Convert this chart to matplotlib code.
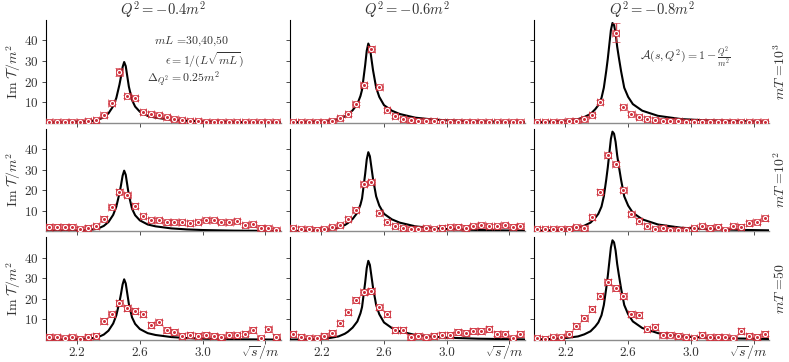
import numpy as np
import matplotlib
matplotlib.use("Agg")
import matplotlib.pyplot as plt
import matplotlib.transforms as mtransforms

plt.rcParams['font.family'] = 'serif'
plt.rcParams['font.serif'] = ['cmr10']
plt.rcParams['mathtext.fontset'] = 'cm'
plt.rcParams['axes.formatter.use_mathtext'] = True

# lattice points (sqrt(s)/m)
s_pts = [2.02, 2.07, 2.12, 2.17, 2.22, 2.27, 2.32, 2.37, 2.42, 2.47,
         2.52, 2.57, 2.62, 2.67, 2.72, 2.77, 2.82, 2.87, 2.92, 2.97,
         3.02, 3.07, 3.12, 3.17, 3.22, 3.27, 3.32, 3.37, 3.42, 3.47]

# rows: mT = 1e3, 1e2, 50 ; cols: Q^2 = -0.4, -0.6, -0.8
im_T = [
    [  # mT = 10^3
        [0.2, 0.2, 0.2, 0.3, 0.4, 0.6, 1.2, 3.6, 9.7, 24.5,
         12.8, 12.0, 5.0, 4.4, 3.8, 2.8, 1.8, 1.3, 0.9, 0.7,
         0.5, 0.4, 0.3, 0.3, 0.2, 0.2, 0.2, 0.1, 0.1, 0.1],
        [0.2, 0.2, 0.3, 0.3, 0.5, 1.0, 2.2, 4.0, 9.3, 18.4,
         35.8, 17.1, 6.1, 3.0, 1.8, 1.3, 1.0, 0.8, 0.6, 0.5,
         0.4, 0.3, 0.3, 0.2, 0.2, 0.2, 0.1, 0.1, 0.1, 0.1],
        [0.2, 0.2, 0.3, 0.4, 0.6, 1.0, 1.8, 3.6, 10.1, np.nan,
         43.8, 7.7, 4.4, 2.6, 1.7, 1.3, 1.0, 0.8, 0.6, 0.5,
         0.4, 0.4, 0.3, 0.3, 0.2, 0.2, 0.2, 0.1, 0.1, 0.1],
    ],
    [  # mT = 10^2
        [2.2, 2.2, 2.2, 2.2, 1.1, 1.8, 2.4, 6.1, 11.7, 19.3,
         17.6, 12.5, 7.4, 5.5, 5.5, 4.3, 4.6, 4.3, 3.9, 4.6,
         5.5, 5.5, 4.6, 4.6, 4.9, 3.0, 3.4, 1.8, 1.6, 0.5],
        [1.5, 1.2, 1.0, 0.8, 1.2, 2.0, 3.0, 6.0, 10.5, 23.0,
         24.0, 9.0, 4.5, 2.5, 1.5, 1.0, 1.2, 1.5, 1.0, 1.8,
         2.0, 2.2, 1.8, 2.5, 3.0, 2.6, 2.4, 3.0, 2.2, 2.6],
        [1.1, 1.0, 1.0, 1.0, 1.3, 1.9, 1.5, 6.8, 19.3, 36.9,
         32.8, 20.1, 8.4, 5.2, 2.6, 1.1, 1.8, 0.6, 0.6, 0.6,
         1.4, 2.6, 1.8, 2.3, 0.6, 2.6, 2.3, 3.9, 4.4, 6.3],
    ],
    [  # mT = 50
        [1.5, 1.2, 0.7, 1.2, 0.3, 1.5, 2.0, 9.2, 12.4, 18.1,
         15.7, 14.2, 12.4, 7.2, 8.5, 4.8, 4.0, 1.8, 2.3, 1.8,
         2.6, 1.8, 1.2, 2.6, 2.2, 3.1, 4.8, 0.7, 5.1, 1.5],
        [2.8, 1.5, 0.7, 0.7, 1.8, 3.4, 8.0, 13.4, 19.4, 23.1,
         23.8, 15.8, 12.8, 4.8, 4.8, 1.5, 1.8, 1.2, 2.0, 2.6,
         2.3, 4.0, 3.4, 4.4, 4.2, 5.2, 3.1, 3.1, 0.7, 2.8],
        [0.7, 0.4, 1.2, 1.2, 3.1, 6.8, 10.8, 15.0, 21.4, 28.1,
         25.1, 21.4, 12.6, 12.1, 5.1, 6.4, 2.6, 2.6, 1.8, 1.2,
         0.7, 2.3, 1.2, 1.5, 1.2, 0.7, 4.4, 1.8, 1.5, 3.1],
    ],
]

s_err = 0.021
row_err = [0.8, 1.1, 1.4]
peak_err = {(0, 0, 9): 2.0, (0, 1, 10): 1.5, (0, 2, 10): 4.5}

# infinite-volume curves, one per Q^2
curve_s = [
    [2.00, 2.10, 2.20, 2.28, 2.33, 2.37, 2.40, 2.43, 2.45, 2.47, 2.48, 2.49, 2.50,
     2.51, 2.52, 2.53, 2.55, 2.57, 2.60, 2.65, 2.70, 2.80, 2.90, 3.00, 3.20, 3.50],
    [2.00, 2.10, 2.20, 2.26, 2.31, 2.35, 2.37, 2.40, 2.43, 2.45, 2.46, 2.47, 2.48, 2.49,
     2.50, 2.51, 2.52, 2.53, 2.55, 2.57, 2.60, 2.65, 2.70, 2.80, 2.90, 3.00, 3.20, 3.50],
    [2.00, 2.10, 2.20, 2.28, 2.32, 2.36, 2.39, 2.41, 2.43, 2.445, 2.46, 2.47, 2.48, 2.49,
     2.50, 2.51, 2.52, 2.53, 2.54, 2.555, 2.575, 2.60, 2.63, 2.69, 2.79, 2.94, 3.10, 3.30, 3.50],
]
curve_T = [
    [0.1, 0.2, 0.35, 0.7, 1.2, 2.6, 4.5, 8.0, 12.0, 18.5, 22.5, 27.0, 29.5,
     27.5, 22.5, 17.5, 11.0, 7.8, 5.3, 3.3, 2.4, 1.4, 0.9, 0.6, 0.3, 0.15],
    [0.15, 0.3, 0.6, 1.0, 1.7, 3.0, 4.0, 6.0, 9.0, 13.0, 16.0, 22.0, 28.0, 35.0,
     38.5, 36.5, 31.0, 25.5, 17.0, 12.5, 8.5, 5.8, 4.2, 2.4, 1.6, 1.1, 0.6, 0.25],
    [0.2, 0.45, 0.9, 1.7, 2.7, 4.2, 6.5, 8.5, 12.0, 17.0, 25.0, 31.0, 38.0, 45.0,
     48.5, 47.5, 43.5, 37.0, 32.0, 25.0, 17.0, 12.5, 9.0, 5.8, 3.3, 1.7, 1.1, 0.7, 0.45],
]

titles = [r'$Q^2=-0.4m^2$', r'$Q^2=-0.6m^2$', r'$Q^2=-0.8m^2$']
row_labels = [r'$mT$ =$10^3$', r'$mT$ =$10^2$', r'$mT$ =$50$']
xticks = [2.2, 2.6, 3.0, 3.4]
xticklabels = ['2.2', '2.6', '3.0', '']
yticks = [10, 20, 30, 40]

red = '#d0303c'
txt = '0.2'

fig, axes = plt.subplots(3, 3, figsize=(7.89, 3.62), dpi=100, sharex=True, sharey=True)
fig.subplots_adjust(left=0.058, right=0.975, top=0.945, bottom=0.061,
                    wspace=0.038, hspace=0.058)

for i in range(3):
    for j in range(3):
        ax = axes[i, j]
        ax.plot(curve_s[j], curve_T[j], color='black', lw=1.5, zorder=3)
        yv = np.array(im_T[i][j], dtype=float)
        ye = np.full(len(yv), row_err[i])
        for (a, b, k), e in peak_err.items():
            if a == i and b == j:
                ye[k] = e
        ax.errorbar(s_pts, yv, xerr=s_err, yerr=ye, fmt='s', ms=4.5,
                    mfc=red, mec=red, mew=0.5, ecolor=red, alpha=0.9,
                    elinewidth=1.0, capsize=2.6, capthick=1.0, zorder=4)
        ax.plot(s_pts, yv, 'o', ms=3.0, mfc='none', mec='white', mew=0.8, zorder=5)
        ax.set_xlim(2.0, 3.5)
        ax.set_ylim(0, 50)
        ax.set_xticks(xticks)
        ax.set_xticklabels(xticklabels)
        ax.set_yticks(yticks)
        for sp in ['top', 'right']:
            ax.spines[sp].set_visible(False)
        ax.spines['left'].set_color('black')
        ax.spines['left'].set_linewidth(0.8)
        ax.spines['bottom'].set_color('0.55')
        ax.spines['bottom'].set_linewidth(1.0)
        ax.tick_params(direction='out', length=3, width=0.7, colors='0.3',
                       labelcolor=txt, labelsize=9.5, pad=2)
        if i == 0:
            ax.set_title(titles[j], fontsize=10.5, color=txt, pad=4)
        if j == 0:
            ax.set_ylabel(r'${\rm Im}\ \mathcal{T}/m^2$', fontsize=10, color=txt)
            ax.yaxis.set_label_coords(-0.095, 0.5)
        if j == 2:
            ax.text(1.045, 0.5, row_labels[i], transform=ax.transAxes, rotation=90,
                    ha='center', va='center', fontsize=10, color=txt)
        if i == 2:
            tr = mtransforms.blended_transform_factory(ax.transData, ax.transAxes)
            ax.text(3.37, -0.115, r'$\sqrt{s}/m$', transform=tr, ha='center',
                    va='center', fontsize=10, color=txt)

a0 = axes[0, 0]
a0.text(0.62, 0.795, r'$mL$ =30,40,50', transform=a0.transAxes, ha='center', va='center',
        fontsize=8.5, color=txt)
a0.text(0.675, 0.61, r'$\epsilon = 1/(L\sqrt{mL})$', transform=a0.transAxes, ha='center',
        va='center', fontsize=8.5, color=txt)
a0.text(0.585, 0.42, r'$\Delta_{Q^2} = 0.25m^2$', transform=a0.transAxes, ha='center',
        va='center', fontsize=8.5, color=txt)
a2 = axes[0, 2]
a2.text(0.643, 0.64, r'$\mathcal{A}(s,Q^2) = 1-\frac{Q^2}{m^2}$', transform=a2.transAxes,
        ha='center', va='center', fontsize=8.5, color=txt)

fig.savefig('out.png', dpi=100)
